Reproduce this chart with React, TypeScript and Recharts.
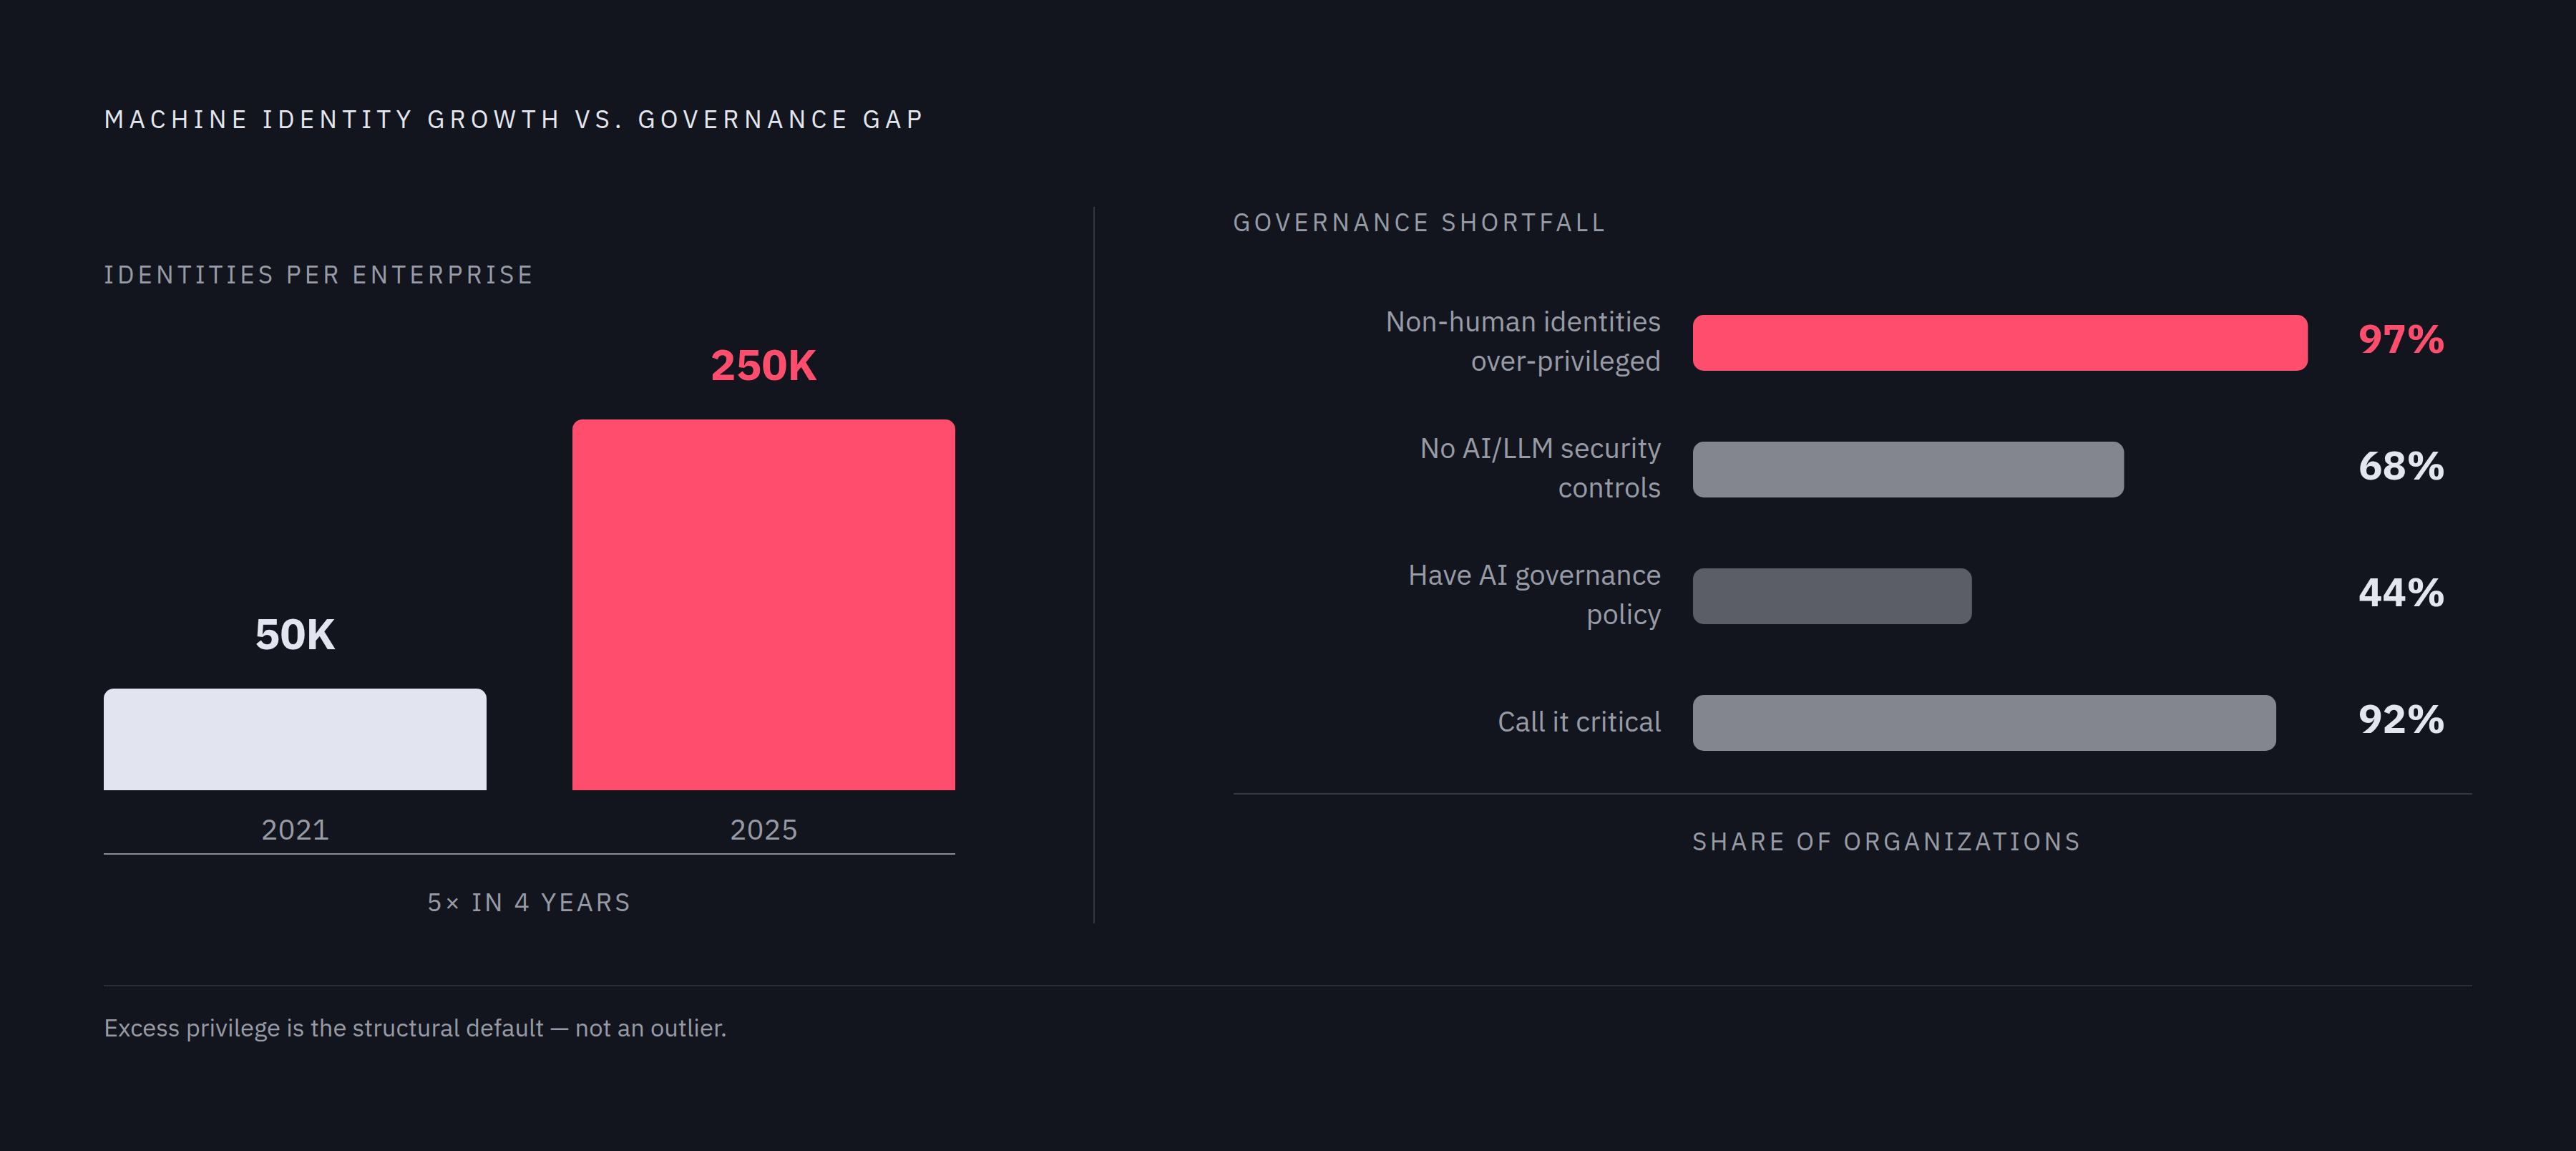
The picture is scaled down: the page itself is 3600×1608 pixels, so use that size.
import React from 'react';
import { BarChart, Bar, XAxis, YAxis, Cell, LabelList } from 'recharts';

const years = ['2021', '2025'];
const identities = [50, 250]; // thousands per enterprise

const shortfallLabels = [
  'Non-human identities over-privileged',
  'No AI/LLM security controls',
  'Have AI governance policy',
  'Call it critical',
];
const shortfallShares = [97, 68, 44, 92];

const FONT = '"IBM Plex Sans", "Noto Sans", sans-serif';
const BG = '#12151d';
const PINK = '#ff4d6d';
const GRAY_TEXT = '#979ba5';
const LIGHT = '#e3e6ee';

const growthColors = ['#e2e5f0', PINK];
const growthLabelColors = ['#e2e5f0', PINK];
const shortfallColors = [PINK, '#83868f', '#5b5e67', '#83868f'];
const shortfallLabelColors = [PINK, LIGHT, LIGHT, LIGHT];

const growthData = years.map((year, i) => ({ year, value: identities[i] }));
const shortfallData = shortfallLabels.map((label, i) => ({ label, share: shortfallShares[i] }));

// greedy word wrap using canvas text metrics
let measureCtx: CanvasRenderingContext2D | null = null;
const wrapText = (text: string, maxWidth: number, font: string) => {
  if (!measureCtx) measureCtx = document.createElement('canvas').getContext('2d');
  const ctx = measureCtx!;
  ctx.font = font;
  const words = text.split(' ');
  const lines: string[] = [];
  let line = '';
  words.forEach((w) => {
    const next = line ? `${line} ${w}` : w;
    if (line && ctx.measureText(next).width > maxWidth) {
      lines.push(line);
      line = w;
    } else {
      line = next;
    }
  });
  if (line) lines.push(line);
  return lines;
};

// position text by its baseline (line-height 1)
const Caption = ({ x, baseline, size, color, spacing = 0, weight = 400, center = false, children }: any) => (
  <div
    style={{
      position: 'absolute',
      left: center ? x - 1000 : x,
      width: center ? 2000 : undefined,
      textAlign: center ? 'center' : 'left',
      top: baseline - 0.888 * size,
      fontSize: size,
      lineHeight: 1,
      color,
      letterSpacing: spacing,
      fontWeight: weight,
      whiteSpace: 'nowrap',
    }}
  >
    {children}
  </div>
);

const GrowthLabel = (props: any) => {
  const { x, y, width, value, index } = props;
  return (
    <text
      x={x + width / 2}
      y={y - 55}
      textAnchor="middle"
      fill={growthLabelColors[index]}
      fontSize={60}
      fontWeight={700}
      fontFamily={FONT}
    >
      {value}K
    </text>
  );
};

const CategoryTick = (props: any) => {
  const { x, y, payload } = props;
  const lines = wrapText(String(payload.value), 405, `39.5px ${FONT}`);
  const lineHeight = 55;
  return (
    <text textAnchor="end" fill={GRAY_TEXT} fontSize={39.5} fontFamily={FONT}>
      {lines.map((l, i) => (
        <tspan key={i} x={x} y={y + (i - (lines.length - 1) / 2) * lineHeight + 12}>
          {l}
        </tspan>
      ))}
    </text>
  );
};

const ShareTick = (props: any) => {
  const { x, y, index } = props;
  return (
    <text
      x={x}
      y={y}
      dy={14}
      textAnchor="start"
      fill={shortfallLabelColors[index]}
      fontSize={56}
      fontWeight={700}
      fontFamily={FONT}
    >
      {shortfallShares[index]}%
    </text>
  );
};

export default function App() {
  return (
    <div
      style={{
        position: 'absolute',
        left: 0,
        top: 0,
        width: 3600,
        height: 1608,
        background: BG,
        fontFamily: FONT,
        overflow: 'hidden',
      }}
    >
      <Caption x={145} baseline={180} size={35} color={LIGHT} spacing={7.2}>
        MACHINE IDENTITY GROWTH VS. GOVERNANCE GAP
      </Caption>

      <Caption x={145} baseline={397} size={35} color={GRAY_TEXT} spacing={5.05}>
        IDENTITIES PER ENTERPRISE
      </Caption>

      <div style={{ position: 'absolute', left: 0, top: 440 }}>
        <BarChart
          width={1480}
          height={780}
          data={growthData}
          margin={{ top: 146, right: 85, bottom: 36, left: 85 }}
        >
          <XAxis
            dataKey="year"
            axisLine={false}
            tickLine={false}
            tickSize={0}
            tickMargin={41}
            height={80}
            tick={{ fill: GRAY_TEXT, fontSize: 40, fontFamily: FONT }}
          />
          <YAxis hide domain={[0, 250]} />
          <Bar
            dataKey="value"
            barSize={535}
            minPointSize={142}
            radius={[14, 14, 0, 0]}
            isAnimationActive={false}
          >
            {growthData.map((d, i) => (
              <Cell key={d.year} fill={growthColors[i]} />
            ))}
            <LabelList dataKey="value" content={<GrowthLabel />} />
          </Bar>
        </BarChart>
      </div>

      <div style={{ position: 'absolute', left: 145, top: 1192, width: 1190, height: 2, background: '#8a8d96' }} />

      <Caption x={740} center baseline={1274} size={36} color={GRAY_TEXT} spacing={3.7}>
        5× IN 4 YEARS
      </Caption>

      <div style={{ position: 'absolute', left: 1528, top: 289, width: 2, height: 1001, background: '#33363f' }} />

      <Caption x={1723} baseline={324} size={35} color={GRAY_TEXT} spacing={5.1}>
        GOVERNANCE SHORTFALL
      </Caption>

      <div style={{ position: 'absolute', left: 1700, top: 360 }}>
        <BarChart
          width={1800}
          height={780}
          data={shortfallData}
          layout="vertical"
          margin={{ top: 30, right: 0, bottom: 42, left: 0 }}
        >
          <XAxis type="number" domain={[0, 100]} hide />
          <YAxis
            yAxisId="left"
            type="category"
            dataKey="label"
            width={666}
            axisLine={false}
            tickLine={false}
            tickSize={0}
            tickMargin={44}
            tick={<CategoryTick />}
            interval={0}
          />
          <YAxis
            yAxisId="right"
            orientation="right"
            type="category"
            dataKey="label"
            width={248}
            axisLine={false}
            tickLine={false}
            tickSize={0}
            tickMargin={44}
            tick={<ShareTick />}
            interval={0}
          />
          <Bar
            yAxisId="left"
            dataKey="share"
            barSize={78}
            radius={15}
            isAnimationActive={false}
          >
            {shortfallData.map((d, i) => (
              <Cell key={d.label} fill={shortfallColors[i]} />
            ))}
          </Bar>
        </BarChart>
      </div>

      <div style={{ position: 'absolute', left: 1724, top: 1108, width: 1731, height: 2, background: '#363942' }} />

      <Caption x={2365} baseline={1189} size={35} color={GRAY_TEXT} spacing={4.45}>
        SHARE OF ORGANIZATIONS
      </Caption>

      <div style={{ position: 'absolute', left: 145, top: 1376, width: 3310, height: 2, background: '#2a2d36' }} />

      <Caption x={145} baseline={1449} size={34.5} color={GRAY_TEXT}>
        Excess privilege is the structural default — not an outlier.
      </Caption>
    </div>
  );
}
